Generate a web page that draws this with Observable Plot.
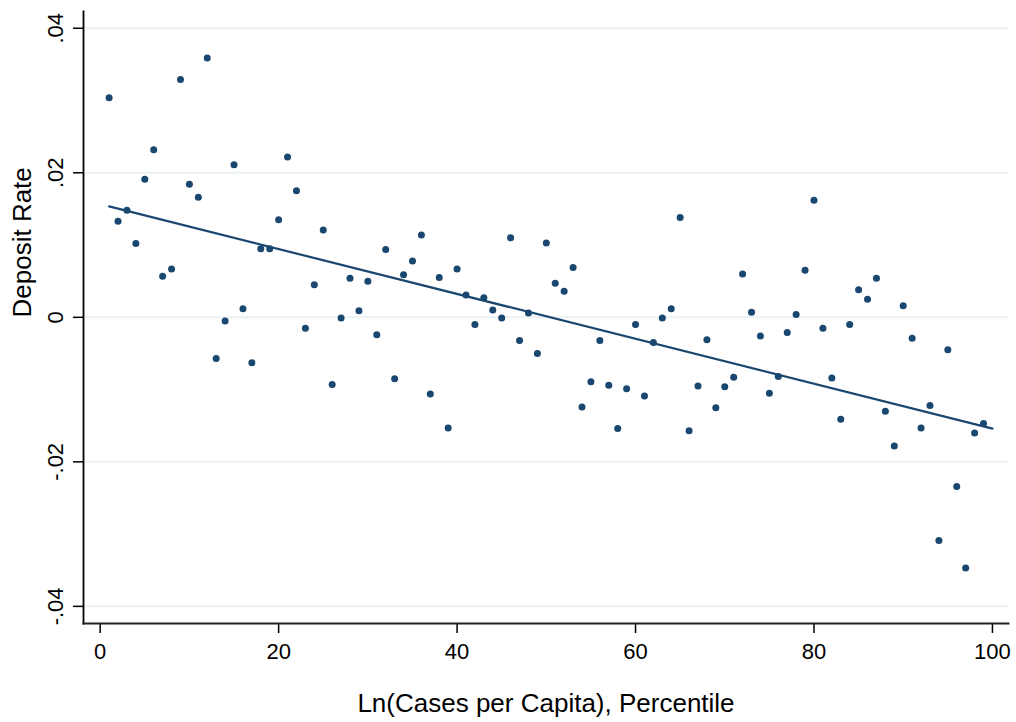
<!DOCTYPE html>
<html>
<head>
<meta charset="utf-8">
<script src="https://cdn.jsdelivr.net/npm/d3@7"></script>
<script src="https://cdn.jsdelivr.net/npm/@observablehq/plot@0.6"></script>
<style>
  html, body { margin: 0; padding: 0; background: #fff; }
  #chart svg { display: block; }
</style>
</head>
<body>
<div id="chart"></div>
<script>
// Percentile bins (x) and mean deposit rate (y)
const percentile = [
  1,2,3,4,5,6,7,8,9,10,11,12,13,14,15,16,17,18,19,20,
  21,22,23,24,25,26,27,28,29,30,31,32,33,34,35,36,37,38,39,40,
  41,42,43,44,45,46,47,48,49,50,51,52,53,54,55,56,57,58,59,60,
  61,62,63,64,65,66,67,68,69,70,71,72,73,74,75,76,77,78,79,80,
  81,82,83,84,85,86,87,88,89,90,91,92,93,94,95,96,97,98,99
];
const depositRate = [
  0.0304, 0.0133, 0.0148, 0.0102, 0.0191, 0.0232, 0.0057, 0.0067, 0.0329, 0.0184,
  0.0166, 0.0359, -0.0057, -0.0005, 0.0211, 0.0012, -0.0063, 0.0095, 0.0095, 0.0135,
  0.0222, 0.0175, -0.0015, 0.0045, 0.0121, -0.0093, -0.0001, 0.0054, 0.0009, 0.0050,
  -0.0024, 0.0094, -0.0085, 0.0059, 0.0078, 0.0114, -0.0106, 0.0055, -0.0153, 0.0067,
  0.0031, -0.0010, 0.0027, 0.0010, -0.0001, 0.0110, -0.0032, 0.0006, -0.0050, 0.0103,
  0.0047, 0.0036, 0.0069, -0.0124, -0.0089, -0.0032, -0.0094, -0.0154, -0.0099, -0.0010,
  -0.0109, -0.0035, -0.0001, 0.0012, 0.0138, -0.0157, -0.0095, -0.0031, -0.0125, -0.0096,
  -0.0083, 0.0060, 0.0007, -0.0026, -0.0105, -0.0082, -0.0021, 0.0004, 0.0065, 0.0162,
  -0.0015, -0.0084, -0.0141, -0.0010, 0.0038, 0.0025, 0.0054, -0.0130, -0.0178, 0.0016,
  -0.0029, -0.0153, -0.0122, -0.0309, -0.0045, -0.0234, -0.0347, -0.0160, -0.0147
];
// Linear fit: fitted values at the two ends of its range
const fitPercentile = [1, 100];
const fitValue = [0.01535, -0.0154];
const xTicks = [0, 20, 40, 60, 80, 100];
const yTicks = [-0.04, -0.02, 0, 0.02, 0.04];
const yTickLabels = ["-.04", "-.02", "0", ".02", ".04"];
const xTitle = "Ln(Cases per Capita), Percentile";
const yTitle = "Deposit Rate";

const points = percentile.map((x, i) => ({x, y: depositRate[i]}));
const fitLine = fitPercentile.map((x, i) => ({x, y: fitValue[i]}));

const navy = "#1a476f";
const chart = Plot.plot({
  width: 1016,
  height: 722,
  marginLeft: 83,
  marginRight: 8,
  marginTop: 11,
  marginBottom: 99,
  style: {fontFamily: "'Liberation Sans', Arial, Helvetica, sans-serif", fontSize: "22px", color: "#000", background: "#fff"},
  x: {domain: [-1.87, 101.8]},
  y: {domain: [-0.04237, 0.04232]},
  marks: [
    Plot.gridY(yTicks, {stroke: "#eaf2f3", strokeOpacity: 1, strokeWidth: 2}),
    Plot.axisX({ticks: xTicks, tickSize: 10, tickPadding: 10, tickFormat: d => String(d), label: null, stroke: "#000", strokeWidth: 1.5, fontSize: 22}),
    Plot.axisY({ticks: yTicks, tickSize: 10, tickPadding: 11, tickRotate: -90, tickFormat: d => yTickLabels[yTicks.indexOf(d)], label: null, stroke: "#000", strokeWidth: 1.5, fontSize: 22}),
    Plot.frame({anchor: "left", stroke: "#000", strokeWidth: 1.8}),
    Plot.frame({anchor: "bottom", stroke: "#222", strokeWidth: 2}),
    Plot.line(fitLine, {x: "x", y: "y", stroke: navy, strokeWidth: 2.2}),
    Plot.dot(points, {x: "x", y: "y", r: 3.5, fill: navy, stroke: "none"}),
    Plot.text([xTitle], {text: d => d, frameAnchor: "bottom", dy: 88, fontSize: 26, fill: "#000"}),
    Plot.text([yTitle], {text: d => d, frameAnchor: "left", rotate: -90, dx: -61, fontSize: 26, fill: "#000"})
  ]
});
document.getElementById("chart").appendChild(chart);
</script>
</body>
</html>
